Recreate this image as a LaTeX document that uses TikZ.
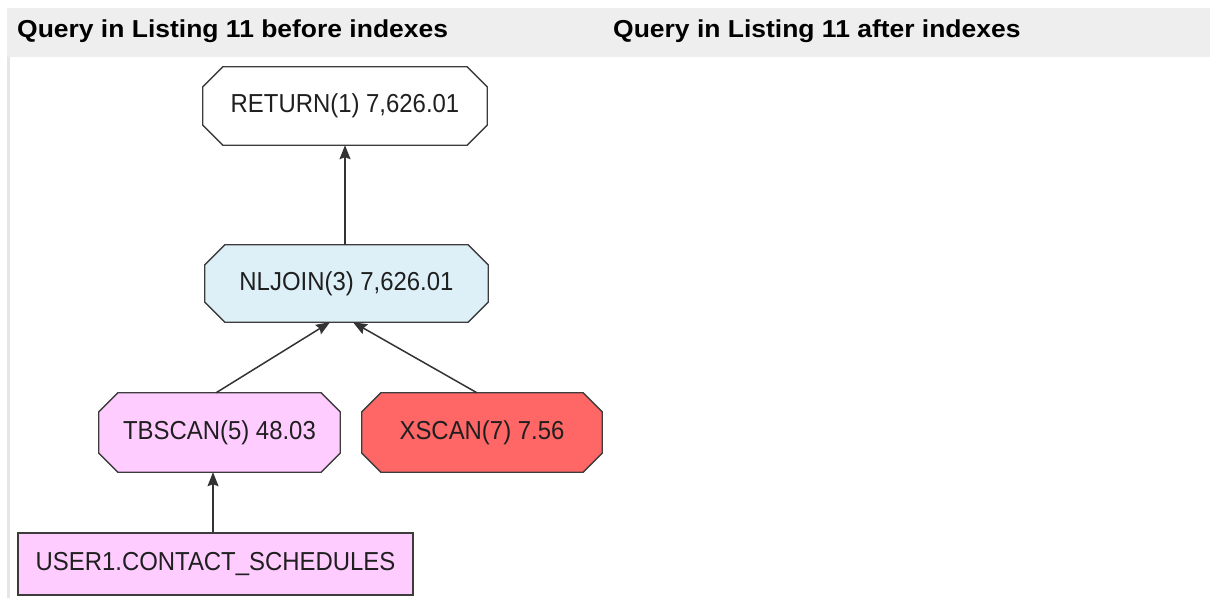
\documentclass[tikz,border=0pt]{standalone}
\usepackage{fontspec}
\setmainfont{Liberation Sans}
\newfontfamily\opfont[FakeStretch=0.92]{Liberation Sans}
\newfontfamily\hdrfont[FakeStretch=1.08]{Liberation Sans}
\usetikzlibrary{arrows.meta}
\definecolor{band}{HTML}{EEEEEE}
\definecolor{rule}{HTML}{E6E6E6}
\definecolor{edgeclr}{HTML}{333333}
\definecolor{frameclr}{HTML}{3C3C3C}
\definecolor{joinfill}{HTML}{DDF0F8}
\definecolor{scanfill}{HTML}{FFCCFF}
\definecolor{xscanfill}{HTML}{FF6666}
\tikzset{
  op/.style={rectangle, inner sep=0pt, minimum width=#1, minimum height=78pt,
    font=\opfont\fontsize{26}{30}\selectfont, text=black!88},
  tbl/.style={rectangle, draw=frameclr, line width=1.3pt, inner sep=0pt, fill=scanfill,
    minimum width=395pt, minimum height=62pt, font=\opfont\fontsize{26}{30}\selectfont, text=black!88},
  frame/.style={draw=frameclr, line width=1.3pt, line join=miter},
  edge/.style={draw=edgeclr, line width=1.5pt, -{Stealth[length=14pt,width=11pt,inset=2pt]}},
  hdr/.style={anchor=base west, inner sep=0pt, font=\hdrfont\bfseries\fontsize{24.5}{28}\selectfont}
}
% octagonal outline around a named node: #1 node, #2 fill, #3 corner cut
\newcommand\octframe[3]{%
  \path[frame, fill=#2]
    ([xshift=#3]#1.north west) -- ([xshift=-#3]#1.north east)
    -- ([yshift=-#3]#1.north east) -- ([yshift=#3]#1.south east)
    -- ([xshift=-#3]#1.south east) -- ([xshift=#3]#1.south west)
    -- ([yshift=#3]#1.south west) -- ([yshift=-#3]#1.north west) -- cycle;}
\begin{document}
\begin{tikzpicture}[x=1pt,y=-1pt]
  \useasboundingbox (0,0) rectangle (1210,598);
  % heading band and left rule
  \fill[band] (7,8) rectangle (1210,57);
  \fill[rule] (7,57) rectangle (9.5,598);
  \node[hdr] (h1) at (17,37) {Query in Listing 11 before indexes};
  \node[hdr] (h2) at (613,37) {Query in Listing 11 after indexes};
  % plan operators (outlines first, labels on top)
  \path node[op=284pt] (ret) at (345,106) {}
        node[op=283pt, minimum height=77pt] (nl) at (346.5,283.5) {}
        node[op=241pt, minimum height=79pt] (tb) at (219.5,432.5) {}
        node[op=240pt, minimum height=79pt] (xs) at (482,432.5) {};
  \octframe{ret}{white}{20pt}
  \octframe{nl}{joinfill}{20pt}
  \octframe{tb}{scanfill}{19pt}
  \octframe{xs}{xscanfill}{19pt}
  \node[op=0pt] (retlbl) at (ret.center) {RETURN(1) 7,626.01};
  \node[op=0pt] (nllbl) at (nl.center) {NLJOIN(3) 7,626.01};
  \node[op=0pt] (tblbl) at (tb.center) {TBSCAN(5) 48.03};
  \node[op=0pt] (xslbl) at (xs.center) {XSCAN(7) 7.56};
  \node[tbl] (usr) at (215.5,564) {USER1.CONTACT\_SCHEDULES};
  % data flow
  \draw[edge] ([xshift=-1.5pt]nl.north) -- (ret.south);
  \draw[edge] ([xshift=-3.5pt]tb.north) -- ([xshift=-16.5pt]nl.south);
  \draw[edge] ([xshift=-5pt]xs.north) -- ([xshift=6.5pt]nl.south);
  \draw[edge] ([xshift=-2.5pt]usr.north) -- ([xshift=-6.5pt]tb.south);
\end{tikzpicture}
\end{document}
